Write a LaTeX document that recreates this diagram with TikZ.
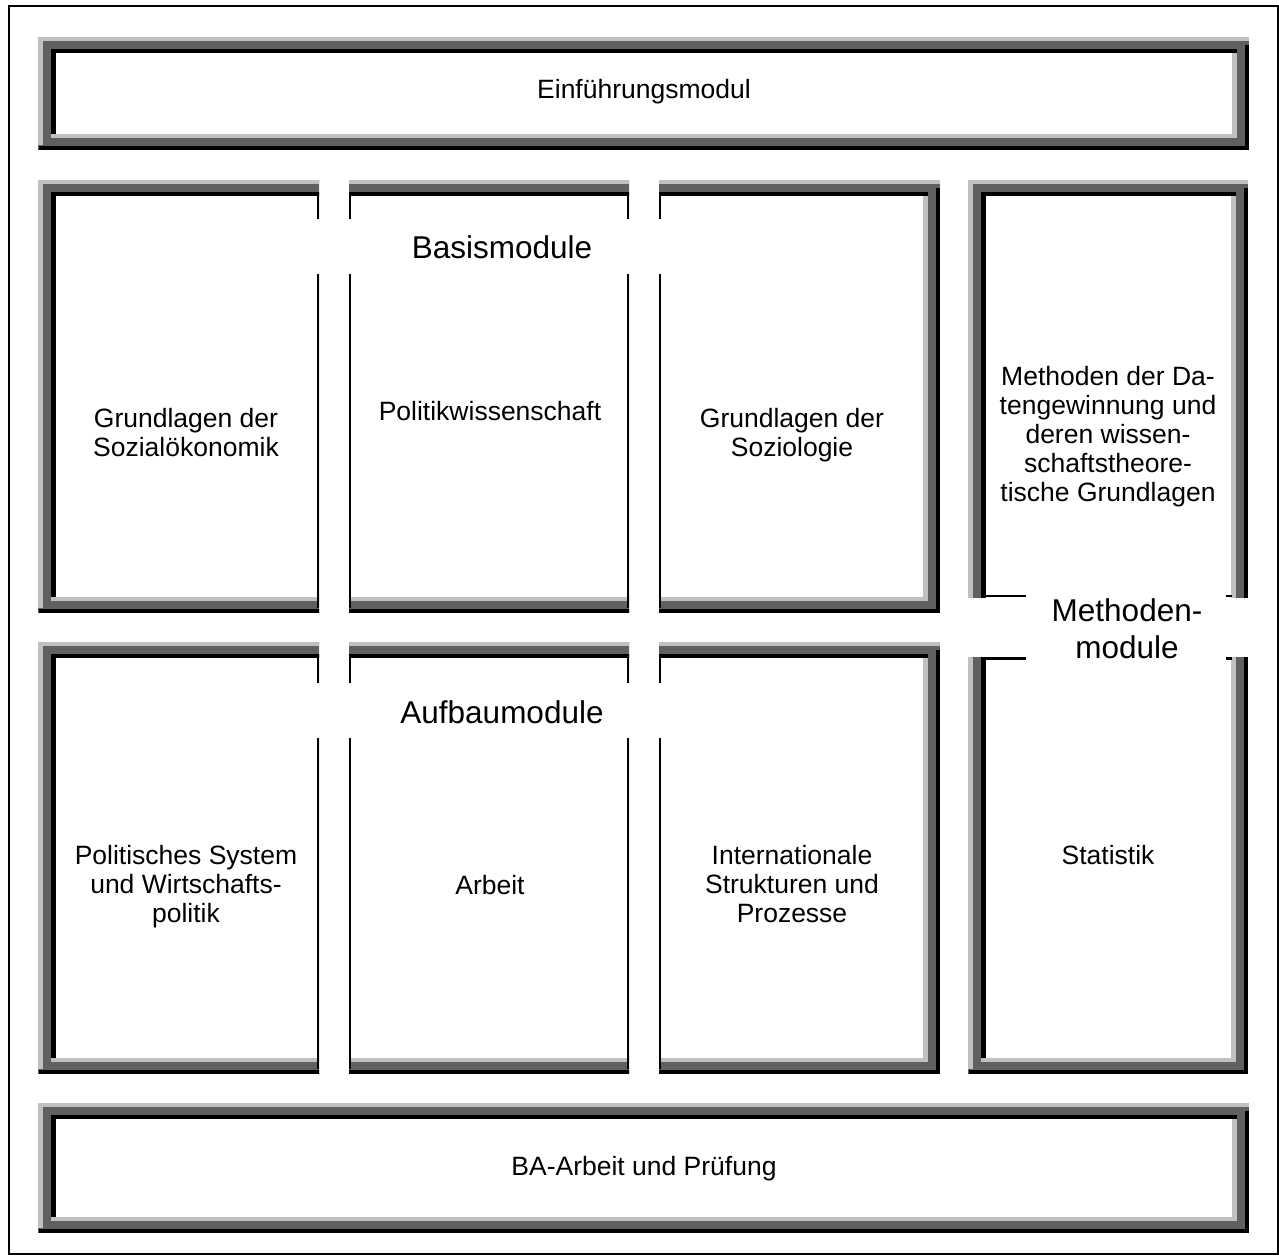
\documentclass[tikz,border=0pt]{standalone}
\usepackage{fontspec}
\setmainfont{Liberation Sans}
\definecolor{lg}{RGB}{192,192,192}
\definecolor{dg}{RGB}{96,96,96}
\newcommand\tdframe[4]{%
  \fill[dg] (#1,#2) rectangle (#3,#4);
  \fill[lg] (#1,#2) rectangle (#3,#2+4);
  \fill[lg] (#1,#2) rectangle (#1+5,#4-5);
  \fill[black] (#1+1,#4-4) rectangle (#3,#4);
  \fill[black] (#3-4,#2+8) rectangle (#3,#4);
  \fill[lg] (#3-17,#2+16) rectangle (#3-12,#4-12);
  \fill[black] (#1+13,#2+12) rectangle (#3-12,#2+16);
  \fill[black] (#1+13,#2+12) rectangle (#1+18,#4-12);
  \fill[lg] (#1+13,#4-16) rectangle (#3-12,#4-12);
  \fill[white] (#1+18,#2+16) rectangle (#3-17,#4-16);
}
\tikzset{
  boxtext/.style={font=\fontsize{26.5}{29}\selectfont, align=center, inner sep=0pt},
  labeltext/.style={font=\fontsize{31.5}{37}\selectfont, align=center, inner sep=0pt},
  pageframe/.style={draw=black, line width=2pt}
}
\begin{document}
\begin{tikzpicture}[x=1pt,y=-1pt]
\useasboundingbox (0,0) rectangle (1279,1257);
\fill[white] (0,0) rectangle (1279,1257);
\draw[pageframe] (9,6) rectangle (1278,1254);

% top and bottom full frames
\tdframe{38}{37}{1249}{150}
\tdframe{38}{1103}{1249}{1233}

% row 1, columns 1-3
\begin{scope}\clip (30,170) rectangle (319,620); \tdframe{38}{180}{345}{613} \end{scope}
\begin{scope}\clip (349,170) rectangle (629,620); \tdframe{323}{180}{655}{613} \end{scope}
\begin{scope}\clip (659,170) rectangle (950,620); \tdframe{633}{180}{940}{613} \end{scope}
\fill (317,192) rectangle (319,608);
\fill (349,192) rectangle (351,608);
\fill (627,192) rectangle (629,608);
\fill (659,192) rectangle (661,608);

% row 2, columns 1-3
\begin{scope}\clip (30,635) rectangle (319,1080); \tdframe{38}{642}{345}{1074} \end{scope}
\begin{scope}\clip (349,635) rectangle (629,1080); \tdframe{323}{642}{655}{1074} \end{scope}
\begin{scope}\clip (659,635) rectangle (950,1080); \tdframe{633}{642}{940}{1074} \end{scope}
\fill (317,654) rectangle (319,1069);
\fill (349,654) rectangle (351,1069);
\fill (627,654) rectangle (629,1069);
\fill (659,654) rectangle (661,1069);

% column 4
\begin{scope}\clip (960,170) rectangle (1260,597); \tdframe{968}{180}{1248}{625} \end{scope}
\begin{scope}\clip (960,657) rectangle (1260,1080); \tdframe{968}{630}{1248}{1074} \end{scope}
\fill (983,595) rectangle (1232,597);
\fill (983,657) rectangle (1232,660);

% label backgrounds
\fill[white] (305,219) rectangle (675,274);
\fill[white] (305,683) rectangle (675,738);
\fill[white] (1026,585) rectangle (1226,670);

% texts
\node[boxtext] (einf) at (644,93) {\strut Einführungsmodul};
\node[labeltext, anchor=base] (basis) at (502,259) {Basismodule};
\node[boxtext] (gso) at (186,436) {\strut Grundlagen der\\Sozialökonomik\strut};
\node[boxtext] (pol) at (490,415) {\strut Politikwissenschaft};
\node[boxtext] (gsoz) at (792,436) {\strut Grundlagen der\\Soziologie\strut};
\node[boxtext] (meth) at (1108,438) {\strut Methoden der Da-\\tengewinnung und\\deren wissen-\\schaftstheore-\\tische Grundlagen\strut};
\node[labeltext] (methlab) at (1127,633) {\strut Methoden-\\module\strut};
\node[labeltext, anchor=base] (aufbau) at (502,723) {Aufbaumodule};
\node[boxtext] (pws) at (186,888) {\strut Politisches System\\und Wirtschafts-\\politik\strut};
\node[boxtext] (arbeit) at (490,889) {\strut Arbeit};
\node[boxtext] (isp) at (792,888) {\strut Internationale\\Strukturen und\\Prozesse\strut};
\node[boxtext] (stat) at (1108,859) {\strut Statistik};
\node[boxtext] (ba) at (644,1170) {\strut BA-Arbeit und Prüfung};
\end{tikzpicture}
\end{document}
